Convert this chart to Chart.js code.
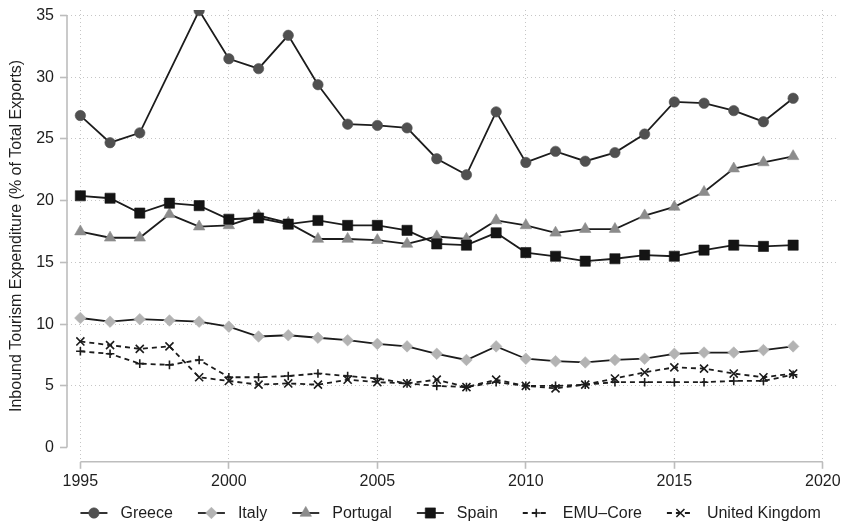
<!DOCTYPE html>
<html>
<head>
<meta charset="utf-8">
<script src="https://cdn.jsdelivr.net/npm/chart.js@4.4.1/dist/chart.umd.min.js"></script>
<style>
  html, body { margin: 0; padding: 0; background: #ffffff; }
  #wrap { width: 844px; height: 525px; }
</style>
</head>
<body>
<div id="wrap"><canvas id="chart" width="844" height="525"></canvas></div>
<script>
// Inbound tourism expenditure as % of total exports, 1995-2019
const years    = [1995,1996,1997,1998,1999,2000,2001,2002,2003,2004,2005,2006,2007,2008,2009,2010,2011,2012,2013,2014,2015,2016,2017,2018,2019];
const greece   = [26.9,24.7,25.5,null,35.4,31.5,30.7,33.4,29.4,26.2,26.1,25.9,23.4,22.1,27.2,23.1,24.0,23.2,23.9,25.4,28.0,27.9,27.3,26.4,28.3];
const italy    = [10.5,10.2,10.4,10.3,10.2,9.8,9.0,9.1,8.9,8.7,8.4,8.2,7.6,7.1,8.2,7.2,7.0,6.9,7.1,7.2,7.6,7.7,7.7,7.9,8.2];
const portugal = [17.5,17.0,17.0,18.9,17.9,18.0,18.8,18.2,16.9,16.9,16.8,16.5,17.1,16.9,18.4,18.0,17.4,17.7,17.7,18.8,19.5,20.7,22.6,23.1,23.6];
const spain    = [20.4,20.2,19.0,19.8,19.6,18.5,18.6,18.1,18.4,18.0,18.0,17.6,16.5,16.4,17.4,15.8,15.5,15.1,15.3,15.6,15.5,16.0,16.4,16.3,16.4];
const emuCore  = [7.8,7.6,6.8,6.7,7.1,5.7,5.7,5.8,6.0,5.8,5.6,5.2,5.0,4.9,5.3,5.0,5.0,5.1,5.3,5.3,5.3,5.3,5.4,5.4,5.9];
const uk       = [8.6,8.3,8.0,8.2,5.7,5.4,5.1,5.2,5.1,5.5,5.3,5.2,5.5,4.9,5.5,5.0,4.8,5.1,5.6,6.1,6.5,6.4,6.0,5.7,6.0];

const seriesNames = ['Greece', 'Italy', 'Portugal', 'Spain', 'EMU\u2013Core', 'United Kingdom'];
const xTicks = [1995, 2000, 2005, 2010, 2015, 2020];
const yTicks = [0, 5, 10, 15, 20, 25, 30, 35];
const yTitle = 'Inbound Tourism Expenditure (% of Total Exports)';

const FONT = '"Liberation Sans", Arial, Helvetica, sans-serif';
const TEXT = '#1e1e1e';
const LINE = '#1c1c1c';
const AXIS = '#bdbdbd';
const GRID = '#c6c6c6';

const styles = [
  { pointStyle: 'circle',   radius: 5.2, fill: '#505050', dash: [] },
  { pointStyle: 'rectRot',  radius: 5.8, fill: '#b3b3b3', dash: [] },
  { pointStyle: 'triangle', radius: 6.6, fill: '#8c8c8c', dash: [] },
  { pointStyle: 'rect',     radius: 7.2, fill: '#141414', dash: [] },
  { pointStyle: 'cross',    radius: 4.3, fill: LINE,      dash: [5, 4] },
  { pointStyle: 'crossRot', radius: 5.7, fill: LINE,      dash: [5, 4] }
];
const values = [greece, italy, portugal, spain, emuCore, uk];

const datasets = values.map((arr, i) => {
  const s = styles[i];
  const isCross = s.pointStyle.startsWith('cross');
  return {
    label: seriesNames[i],
    data: years.map((yr, k) => ({ x: yr, y: arr[k] })),
    borderColor: LINE,
    borderWidth: 1.8,
    borderDash: s.dash,
    tension: 0,
    spanGaps: true,
    pointStyle: s.pointStyle,
    pointRadius: s.radius,
    pointHoverRadius: s.radius,
    pointBackgroundColor: s.fill,
    pointBorderColor: isCross ? LINE : s.fill,
    pointBorderWidth: isCross ? 1.6 : 0.6,
    order: values.length - i
  };
});

// Axis lines spanning only the labelled range, offset from the data
const axisLines = {
  id: 'axisLines',
  beforeDatasetsDraw(chart) {
    const { ctx, chartArea, scales: { x, y } } = chart;
    ctx.save();
    ctx.strokeStyle = AXIS;
    ctx.lineWidth = 1.6;
    ctx.beginPath();
    ctx.moveTo(chartArea.left, y.getPixelForValue(yTicks[0]));
    ctx.lineTo(chartArea.left, y.getPixelForValue(yTicks[yTicks.length - 1]));
    ctx.moveTo(x.getPixelForValue(xTicks[0]), chartArea.bottom);
    ctx.lineTo(x.getPixelForValue(xTicks[xTicks.length - 1]), chartArea.bottom);
    ctx.stroke();
    ctx.restore();
  }
};

// Legend row: line key with marker, then label, centred under the plot
const keyLegend = {
  id: 'keyLegend',
  afterDraw(chart) {
    const { ctx, chartArea } = chart;
    const keyW = 27, keyGap = 13, itemGap = 25;
    ctx.save();
    ctx.font = '16px ' + FONT;
    const widths = seriesNames.map(t => ctx.measureText(t).width);
    const total = widths.reduce((a, w) => a + keyW + keyGap + w, 0) + itemGap * (seriesNames.length - 1);
    let xPos = (chartArea.left + chartArea.right) / 2 - total / 2 - 1;
    const yPos = chart.height - 12;
    datasets.forEach((ds, i) => {
      const s = styles[i];
      ctx.save();
      ctx.strokeStyle = LINE;
      ctx.lineWidth = 1.8;
      ctx.setLineDash(s.dash);
      ctx.beginPath();
      ctx.moveTo(xPos, yPos);
      ctx.lineTo(xPos + keyW, yPos);
      ctx.stroke();
      ctx.setLineDash([]);
      ctx.fillStyle = s.fill;
      ctx.strokeStyle = ds.pointBorderColor;
      ctx.lineWidth = ds.pointBorderWidth;
      Chart.helpers.drawPoint(ctx, {
        pointStyle: s.pointStyle,
        radius: s.radius,
        rotation: 0,
        borderWidth: ds.pointBorderWidth
      }, xPos + keyW / 2, yPos);
      ctx.restore();
      ctx.fillStyle = TEXT;
      ctx.textBaseline = 'middle';
      ctx.textAlign = 'left';
      ctx.fillText(seriesNames[i], xPos + keyW + keyGap, yPos + 1);
      xPos += keyW + keyGap + widths[i] + itemGap;
    });
    ctx.restore();
  }
};

new Chart(document.getElementById('chart'), {
  type: 'line',
  data: { datasets },
  plugins: [axisLines, keyLegend],
  options: {
    responsive: false,
    animation: false,
    devicePixelRatio: 1,
    layout: { padding: { left: 0, right: 7, top: 10, bottom: 31 } },
    plugins: {
      legend: { display: false },
      tooltip: { enabled: false }
    },
    scales: {
      x: {
        type: 'linear',
        min: 1994.55,
        max: 2020.45,
        afterBuildTicks: s => { s.ticks = xTicks.map(v => ({ value: v })); },
        afterFit: s => { s.paddingLeft = 0; s.paddingRight = 0; },
        ticks: {
          font: { family: FONT, size: 16 },
          color: TEXT,
          padding: 3,
          maxRotation: 0,
          autoSkip: false,
          callback: v => String(v)
        },
        grid: {
          color: GRID,
          lineWidth: 1,
          drawTicks: true,
          tickLength: 7,
          tickColor: AXIS,
          tickWidth: 1.6
        },
        border: { display: false, dash: [1, 3] }
      },
      y: {
        type: 'linear',
        min: -1.15,
        max: 35.45,
        afterBuildTicks: s => { s.ticks = yTicks.map(v => ({ value: v })); },
        afterFit: s => { s.width = 67; s.paddingTop = 0; s.paddingBottom = 0; },
        ticks: {
          font: { family: FONT, size: 16 },
          color: TEXT,
          padding: 6,
          autoSkip: false,
          callback: v => String(v)
        },
        grid: {
          color: c => (c.tick && c.tick.value === 0 ? 'rgba(0,0,0,0)' : GRID),
          lineWidth: 1,
          drawTicks: true,
          tickLength: 7,
          tickColor: AXIS,
          tickWidth: 1.6
        },
        border: { display: false, dash: [1, 3] },
        title: {
          display: true,
          text: yTitle,
          font: { family: FONT, size: 16 },
          color: TEXT,
          padding: { top: 7, bottom: 0 }
        }
      }
    }
  }
});
</script>
</body>
</html>
